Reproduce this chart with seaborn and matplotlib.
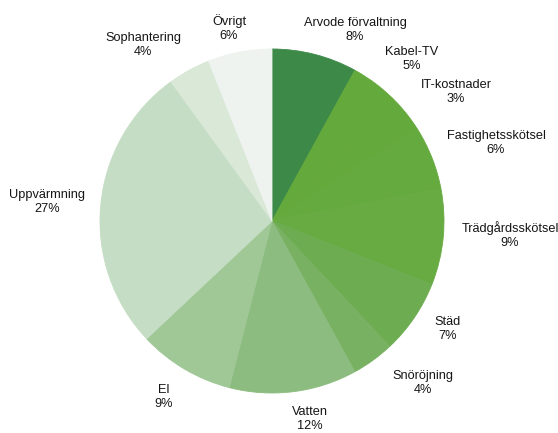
import matplotlib
matplotlib.use("Agg")
import matplotlib.pyplot as plt
import seaborn as sns

# Cost shares, clockwise from 12 o'clock
categories = ["Arvode förvaltning", "Kabel-TV", "IT-kostnader", "Fastighetsskötsel",
              "Trädgårdsskötsel", "Städ", "Snöröjning", "Vatten", "El",
              "Uppvärmning", "Sophantering", "Övrigt"]
shares = [8, 5, 3, 6, 9, 7, 4, 12, 9, 27, 4, 6]
slice_colors = ["#3d8a48", "#63a93b", "#64a93c", "#65aa3e", "#67ab42", "#6dac50",
                "#79b163", "#8cbc7f", "#a0c796", "#c5ddc4", "#dae8d7", "#eef3ef"]

# Label anchor points (figure pixels, centre of the two-line block)
label_xy = [(355, 30), (412, 59), (456, 92), (496, 143), (510, 235), (448, 329),
            (423, 383), (310, 419), (164, 397), (47, 202), (143, 45), (229, 28)]

sns.set_theme(style="white")
plt.rcParams["font.family"] = ["Liberation Sans", "DejaVu Sans"]

W, H = 558, 433
fig = plt.figure(figsize=(W / 100, H / 100), dpi=100)
fig.patch.set_facecolor("white")

cx, cy, r = 272, 221, 172
ax = fig.add_axes([(cx - r) / W, (H - cy - r) / H, 2 * r / W, 2 * r / H])
wedges, _ = ax.pie(shares, colors=slice_colors, startangle=90, counterclock=False,
                   radius=1.0, wedgeprops=dict(linewidth=0.6))
# edge each wedge in its own fill so no seams show between slices
for w in wedges:
    w.set_edgecolor(w.get_facecolor())
ax.set_xlim(-1, 1)
ax.set_ylim(-1, 1)
ax.set_aspect("equal")
ax.axis("off")

for name, val, (x, y) in zip(categories, shares, label_xy):
    fig.text(x / W, 1 - y / H, f"{name}\n{val}%", ha="center", va="center",
             fontsize=9.2, color="#151515", linespacing=1.2)

fig.savefig("out.png", dpi=100, facecolor="white")
